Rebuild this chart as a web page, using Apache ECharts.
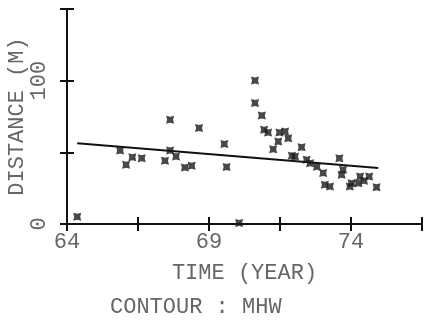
<!DOCTYPE html>
<html>
<head>
<meta charset="utf-8">
<script src="https://cdn.jsdelivr.net/npm/echarts@6/dist/echarts.min.js"></script>
<style>
  html, body { margin: 0; padding: 0; background: #fff; }
  #chart { width: 427px; height: 323px; }
</style>
</head>
<body>
<div id="chart"></div>
<script>
// years on the time axis are plotted as offsets from 1964
const BASE_YEAR = 64;

const years = [
    64.36, 65.87, 66.08, 66.30, 66.63, 67.45, 67.63, 67.63, 67.84, 68.15,
    68.39, 68.65, 69.54, 69.62, 70.06, 70.62, 70.62, 70.86, 70.94, 71.08,
    71.48, 71.68, 71.79, 71.44, 71.26, 72.26, 72.03, 72.44, 71.92, 72.56,
    73.02, 73.26, 73.08, 73.59, 73.67, 73.72, 74.02, 74.26, 74.32, 73.96,
    74.46, 74.64, 74.90, 72.80
];
const distances = [
    5.1, 51.3, 41.3, 46.6, 45.9, 44.1, 72.7, 51.3, 47.1, 39.4,
    40.6, 66.9, 55.9, 39.7, 0.7, 100.2, 84.4, 75.7, 65.7, 63.8,
    63.8, 64.5, 59.9, 57.6, 52.2, 53.6, 47.1, 44.8, 47.6, 42.4,
    35.5, 26.1, 27.3, 45.9, 34.3, 37.8, 28.5, 28.5, 33.1, 26.1,
    30.1, 33.1, 25.7, 40.0
];

// fitted trend line, ends only
const fitYears = [64.36, 74.96];
const fitDistances = [56.4, 39.0];

const xTickLabels = { 0: '64', 5: '69', 10: '74' };
const yTickLabels = { 0: '0', 100: '100' };

const points = years.map((y, i) => [y - BASE_YEAR, distances[i]]);
const fitLine = fitYears.map((y, i) => [y - BASE_YEAR, fitDistances[i]]);

const FONT = 'Liberation Mono';
const FONT_SIZE = 22;
const INK = '#111';
const TEXT = '#666';

let chart = echarts.init(document.getElementById('chart'));

function xAxisBase(inside) {
    return {
        type: 'value',
        min: 0,
        max: 12.5,
        interval: 2.5,
        position: 'bottom',
        splitLine: { show: false },
        axisLine: { show: !inside, lineStyle: { color: INK, width: 2 } },
        axisTick: { show: true, inside: inside, length: 7, lineStyle: { color: INK, width: 2 } },
        axisLabel: {
            show: !inside,
            margin: 7,
            fontFamily: FONT,
            fontSize: FONT_SIZE,
            color: TEXT,
            formatter: v => xTickLabels[v] || ''
        }
    };
}

function yAxisBase(inside) {
    return {
        type: 'value',
        min: 0,
        max: 150,
        interval: 50,
        position: 'left',
        splitLine: { show: false },
        axisLine: { show: !inside, lineStyle: { color: INK, width: 2 } },
        axisTick: { show: true, inside: inside, length: 7, lineStyle: { color: INK, width: 2 } },
        axisLabel: {
            show: !inside,
            rotate: 90,
            margin: 17,
            fontFamily: FONT,
            fontSize: FONT_SIZE,
            color: TEXT,
            formatter: v => yTickLabels[v] || ''
        }
    };
}

let xOuter = xAxisBase(false);
xOuter.name = 'TIME (YEAR)';
xOuter.nameLocation = 'middle';
xOuter.nameGap = 38;
xOuter.nameTextStyle = { fontFamily: FONT, fontSize: FONT_SIZE, color: TEXT };

let yOuter = yAxisBase(false);
yOuter.name = 'DISTANCE (M)';
yOuter.nameLocation = 'middle';
yOuter.nameGap = 39;
yOuter.nameMoveOverlap = false;
yOuter.nameTextStyle = { fontFamily: FONT, fontSize: FONT_SIZE, color: TEXT };

chart.setOption({
    animation: false,
    backgroundColor: '#fff',
    grid: { left: 67, right: 5, top: 9, bottom: 99, containLabel: false, outerBoundsMode: 'none' },
    xAxis: [xOuter, xAxisBase(true)],
    yAxis: [yOuter, yAxisBase(true)],
    graphic: [{
        type: 'text',
        left: 110,
        top: 296,
        style: { text: 'CONTOUR : MHW', font: FONT_SIZE + 'px "' + FONT + '"', fill: TEXT }
    }],
    series: [
        {
            type: 'line',
            data: fitLine,
            symbol: 'none',
            lineStyle: { color: INK, width: 2 },
            z: 2
        },
        {
            type: 'scatter',
            data: points,
            symbol: 'path://M0,0 L4,1 L8,0 L7,4 L8,8 L4,7 L0,8 L1,4 Z',
            symbolSize: 8,
            itemStyle: { color: '#1a1a1a' },
            z: 3
        }
    ]
});
</script>
</body>
</html>
